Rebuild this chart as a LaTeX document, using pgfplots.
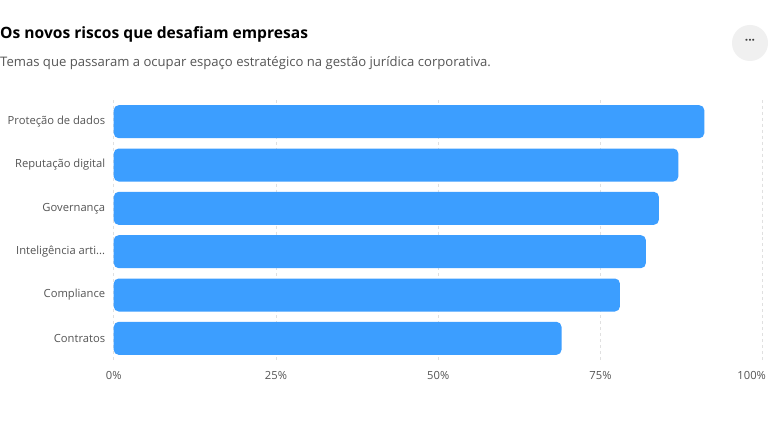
\documentclass[border=0pt]{standalone}
\usepackage{pgfplots}
\pgfplotsset{compat=1.18}
\usepackage{fontspec}
\setmainfont{Open Sans}
\definecolor{barblue}{HTML}{3C9EFF}
\definecolor{ticktext}{HTML}{555555}
\definecolor{subtext}{HTML}{555555}
\definecolor{gridc}{HTML}{E0E0E0}
\newcommand{\tdots}{...}
\begin{document}
\begin{tikzpicture}
\path[use as bounding box, fill=white] (0bp,0bp) rectangle (768bp,432bp);
\node[anchor=base west, inner sep=0, font=\fontsize{15.6bp}{18bp}\selectfont\bfseries] at (0bp,393bp) {Os novos riscos que desafiam empresas};
\node[anchor=base west, inner sep=0, text=subtext, font=\fontsize{13.1bp}{15bp}\selectfont] at (0bp,365bp) {Temas que passaram a ocupar espaço estratégico na gestão jurídica corporativa.};
\fill[black!6] (750bp,389bp) circle (18bp);
\node[font=\fontsize{12bp}{14bp}\selectfont\bfseries, text=black!75] at (750bp,390bp) {···};
\begin{axis}[
  at={(113.7bp,72bp)}, anchor=south west,
  scale only axis, width=649bp, height=260bp,
  xmin=0, xmax=100, ymin=-0.5, ymax=5.5,
  y dir=reverse,
  axis line style={draw=none},
  major tick length=0pt,
  xtick={0,25,50,75,100},
  xticklabels={0\%,25\%,50\%,75\%,\hspace*{-22bp}100\%},
  ytick={0,1,2,3,4,5},
  yticklabels={Proteção de dados,Reputação digital,Governança,{Inteligência arti\tdots},Compliance,Contratos},
  xmajorgrids,
  grid style={gridc, dashed, line width=0.8bp},
  tick label style={text=ticktext, font=\fontsize{11.2bp}{13bp}\selectfont},
  xticklabel style={yshift=-8bp},
  yticklabel style={xshift=-5bp},
]
\addplot[xbar, bar width=33bp, fill=barblue, draw=none, rounded corners=5bp] coordinates {
(91,0) (87,1) (84,2) (82,3) (78,4) (69,5)
};
\end{axis}
\end{tikzpicture}
\end{document}
